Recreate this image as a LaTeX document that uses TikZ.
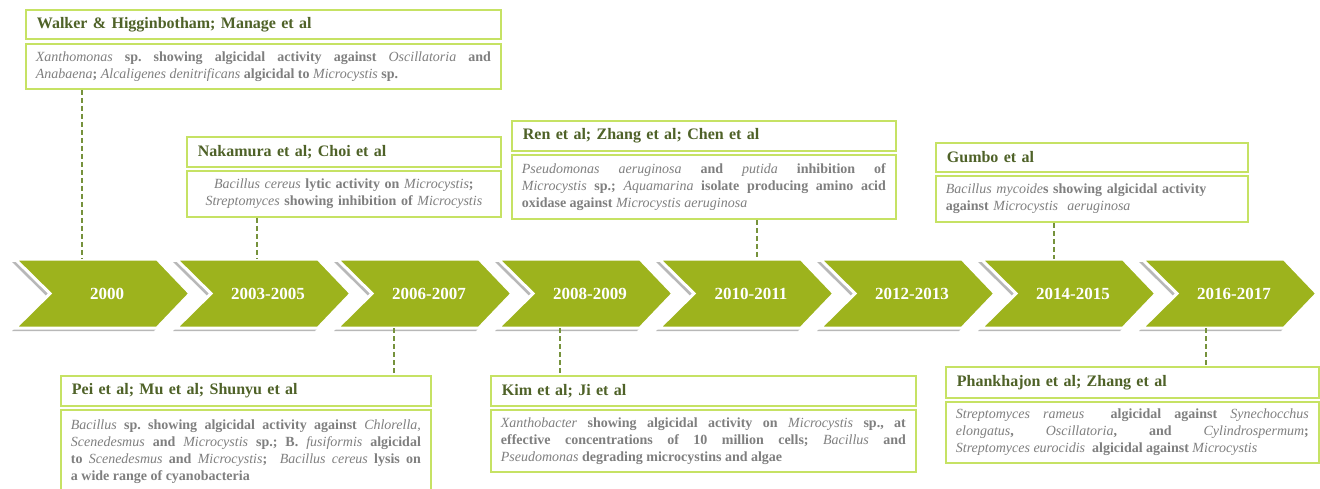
\documentclass[tikz,border=0pt]{standalone}
\usepackage{fontspec}
\setmainfont{Liberation Serif}
\definecolor{chev}{RGB}{157,179,29}
\definecolor{limeline}{RGB}{198,226,100}
\definecolor{titletext}{RGB}{79,98,40}
\definecolor{desctext}{RGB}{127,127,127}
\definecolor{connline}{RGB}{118,146,60}
\newcommand\sci[1]{{\mdseries\itshape #1}}
\frenchspacing
\begin{document}
\begin{tikzpicture}[x=1pt,y=-1pt,
  titlebox/.style={draw=limeline, line width=1.8pt, fill=white, anchor=north west,
    inner xsep=11pt, inner ysep=0pt, align=left, text=titletext,
    font=\fontsize{16}{19}\selectfont\bfseries},
  descbox/.style={draw=limeline, line width=1.8pt, fill=white, anchor=north west,
    inner xsep=10pt, inner ysep=0pt, text=desctext,
    font=\fontsize{14}{17}\selectfont\bfseries},
  connector/.style={draw=connline, line width=1.5pt, dash pattern=on 5pt off 3pt},
  yearlabel/.style={text=white, font=\fontsize{17}{20}\selectfont\bfseries},
  chevshadow/.style={fill=black!28},
  chevbody/.style={fill=chev, draw=white, line width=3pt, line join=miter},
]
\useasboundingbox (0,0) rectangle (1320,488);
\fill[white] (0,0) rectangle (1320,488);

% connector end points on the chevrons
\coordinate (k1) at (82,259);
\coordinate (k2) at (257,259);
\coordinate (k3) at (757,259);
\coordinate (k4) at (1054,259);
\coordinate (k5) at (394,328);
\coordinate (k6) at (560,328);
\coordinate (k7) at (1206,328);

% chevrons
\foreach \lab [count=\i from 0] in {2000,2003-2005,2006-2007,2008-2009,2010-2011,2012-2013,2014-2015,2016-2017}{
  \pgfmathsetmacro\xo{15+161*\i}
  \fill[chevshadow] (\xo-3,262) -- (\xo+139,262) -- (\xo+172,296.5) -- (\xo+139,331) -- (\xo-3,331) -- (\xo+32,296.5) -- cycle;
  \filldraw[chevbody] (\xo,259) -- (\xo+142,259) -- (\xo+175,293.5) -- (\xo+142,328) -- (\xo,328) -- (\xo+35,293.5) -- cycle;
  \node[yearlabel] (y\i) at (\xo+92,293.5) {\lab};
}

% boxes above
\node[titlebox, text width=453pt, minimum height=29pt] (t1) at (25,9) {Walker \& Higginbotham; Manage et al};
\node[descbox, text width=455pt, minimum height=45pt, align=justify] (d1) at (25,43)
  {\sci{Xanthomonas} sp. showing algicidal activity against \sci{Oscillatoria} and\linebreak
   \sci{Anabaena}; \sci{Alcaligenes denitrificans} algicidal to \sci{Microcystis} sp.};

\node[titlebox, text width=292pt, minimum height=30pt] (t2) at (186,136) {Nakamura et al; Choi et al};
\node[descbox, text width=294pt, minimum height=46pt, align=center] (d2) at (186,170)
  {\sci{Bacillus cereus} lytic activity on \sci{Microcystis};\\
   \sci{Streptomyces} showing inhibition of \sci{Microcystis}};

\node[titlebox, text width=362pt, minimum height=30pt] (t3) at (511,120) {Ren et al; Zhang et al; Chen et al};
\node[descbox, text width=364pt, minimum height=64pt, align=justify] (d3) at (511,154)
  {\sci{Pseudomonas aeruginosa} and \sci{putida} inhibition of\linebreak
   \sci{Microcystis} sp.; \sci{Aquamarina} isolate producing amino acid\linebreak
   oxidase against \sci{Microcystis aeruginosa}};

\node[titlebox, text width=290pt, minimum height=29pt] (t4) at (935,142) {Gumbo et al};
\node[descbox, text width=292pt, minimum height=46pt, align=left] (d4) at (935,175)
  {\sci{Bacillus mycoide}s showing algicidal activity\\
   against \sci{Microcystis}\ \ \sci{aeruginosa}};

% boxes below
\node[titlebox, text width=348pt, minimum height=30pt] (t5) at (60,375) {Pei et al; Mu et al; Shunyu et al};
\node[descbox, text width=350pt, minimum height=83pt, align=justify] (d5) at (60,409)
  {\sci{Bacillus} sp. showing algicidal activity against \sci{Chlorella,}\linebreak
   \sci{Scenedesmus} and \sci{Microcystis} sp.; B. \sci{fusiformis} algicidal\linebreak
   to \sci{Scenedesmus} and \sci{Microcystis};\ \ \sci{Bacillus cereus} lysis on\linebreak
   a wide range of cyanobacteria};

\node[titlebox, text width=403pt, minimum height=30pt] (t6) at (490,375) {Kim et al; Ji et al};
\node[descbox, text width=405pt, minimum height=62pt, align=justify] (d6) at (490,409)
  {\sci{Xanthobacter} showing algicidal activity on \sci{Microcystis} sp., at\linebreak
   effective concentrations of 10 million cells; \sci{Bacillus} and\linebreak
   \sci{Pseudomonas} degrading microcystins and algae};

\node[titlebox, text width=351pt, minimum height=31pt] (t7) at (945,366) {Phankhajon et al; Zhang et al};
\node[descbox, text width=353pt, minimum height=61pt, align=justify] (d7) at (945,401)
  {\sci{Streptomyces rameus}\ \ algicidal against \sci{Synechocchus}\linebreak
   \sci{elongatus}, \sci{Oscillatoria}, and \sci{Cylindrospermum};\linebreak
   \sci{Streptomyces eurocidis}\ \ algicidal against \sci{Microcystis}};

% connectors
\draw[connector] (d1.south -| k1) -- (k1);
\draw[connector] (d2.south -| k2) -- (k2);
\draw[connector] (d3.south -| k3) -- (k3);
\draw[connector] (d4.south -| k4) -- (k4);
\draw[connector] (k5) -- (t5.north -| k5);
\draw[connector] (k6) -- (t6.north -| k6);
\draw[connector] (k7) -- (t7.north -| k7);
\end{tikzpicture}
\end{document}
